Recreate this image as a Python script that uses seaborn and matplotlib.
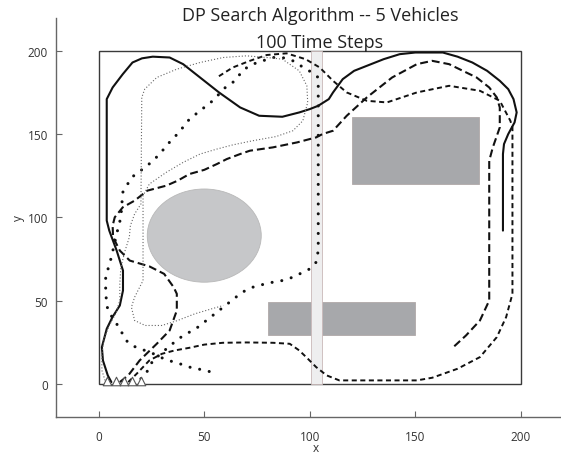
import seaborn as sns
import matplotlib.pyplot as plt
import matplotlib.patches as mpatches

# vehicle start markers
tri_x = [4, 8, 12, 16, 20]
tri_y = [1.5, 1.5, 1.5, 1.5, 1.5]

# vehicle 1 - solid
solid_x = [6, 4.3, 2, 1.5, 3.8, 6.5, 10, 11.5, 11.5, 8.5, 5, 3.8, 3.8, 6.6, 11.4, 16, 20.5, 25.6,
           33.6, 40, 48, 57, 67, 76, 87, 95, 100, 104, 109, 111, 115.6, 121, 127, 135, 142.6, 150,
           163, 170, 177, 184, 190, 194, 196.5, 198, 197, 194, 192, 191.5, 191.5]
solid_y = [1, 5, 14, 22, 33, 40, 47, 56, 68, 80, 92, 98, 171, 178, 186, 193, 195.5, 196.5,
           196, 192, 184, 175, 166, 161, 160.4, 163, 165, 167, 171, 175, 183, 188, 191, 195, 198, 199,
           199, 196.5, 193, 188, 182, 177, 171, 163, 157, 150, 144, 138, 92]

# vehicle 2 - long dashes
dash1_x = [10, 14, 19.4, 27.5, 33.6, 37, 37, 35.5, 31, 24, 14.7, 10, 6.8, 6.6, 7.6, 11.4, 17, 23,
           32, 37.4, 43, 50, 56, 60.7, 67, 71.6, 82.5, 94, 103, 106, 111, 117.5, 127, 139, 150.7,
           158, 166, 179, 185, 188.6, 190, 190, 186.7, 185, 185, 180.6, 174, 168]
dash1_y = [1, 5, 14, 24, 32, 44, 54, 58, 66, 70.5, 74, 80, 88, 95, 100, 106, 110, 116,
           119, 122, 126, 128.5, 132, 135, 138, 140, 142, 145, 148, 150, 152, 161, 172, 184, 192,
           194, 192, 184, 178, 172, 166, 154, 142, 134, 50, 38, 29, 22]

# vehicle 3 - short dashes
dash2_x = [14, 18, 24, 30, 36, 43, 50, 58.8, 70, 82.5, 90.5, 95, 98.6, 103, 108, 114, 130, 150.7,
           158, 170, 180.6, 188.6, 193, 196, 196, 195, 190, 180.6, 166, 150.7, 136.5, 127, 117.5,
           111, 104.7, 98, 89, 79.6, 71.6, 63.5, 56]
dash2_y = [1, 6, 14, 18, 20, 21.6, 23.5, 24.6, 24.8, 24.6, 24, 20, 15.6, 10, 5, 2, 2, 2,
           3.6, 9, 16, 28, 40, 54, 154, 158, 170, 176, 179, 175, 169, 170, 175,
           182, 190, 195, 198.5, 197.5, 194, 190, 184]

# vehicle 4 - heavy dots
dots_x = [20, 21.8, 24, 26, 29.9, 32.7, 36, 39, 43, 47, 51, 54, 58, 65, 68, 73, 77.7, 82.5, 87,
          92, 100, 103, 104, 104, 101, 97, 92, 87, 82.5, 77.7, 73, 69, 63.5, 60, 54, 50, 43, 38,
          32, 29, 23, 15.6, 11.4, 10.5, 8.5, 6, 3.3, 3.3, 4.3, 9, 11, 13, 16, 21, 25, 29, 33.6,
          38.4, 44, 49, 53.5]
dots_y = [3, 5, 9.6, 15, 18, 22, 25, 28, 31, 34, 38, 41, 45, 52, 55, 58, 59.6, 61, 62,
          64, 69, 73, 80, 184, 187, 190, 194, 196, 196, 194, 192, 189, 181, 178, 170, 166, 159, 151,
          143, 138, 131, 124, 115, 100, 90, 76, 64, 54, 44, 35, 30.6, 26, 22.8, 20.4, 18.6, 16, 13.8,
          12, 9.6, 8.4, 7]

# vehicle 5 - fine dots
fine_x = [3, 1.5, 1.5, 2.5, 5, 8, 10, 10, 10.5, 12.5, 14.5, 15, 17, 20, 20.4, 21.8, 27.5, 37, 48,
          59, 70, 79.6, 87, 95, 98.6, 99, 96.7, 92, 84, 73, 63.5, 56, 48, 40, 32, 24, 21, 21, 19.4,
          17, 15.5, 17, 22, 30, 37.4, 45.5, 53.5, 59]
fine_y = [2, 8, 18, 27, 35, 42, 50, 60, 70, 80, 88, 95, 102, 108, 172, 177, 184, 189, 193,
          196, 197, 196, 195, 188, 179, 169, 158, 152, 148.5, 146, 143.5, 141, 138, 133, 127, 120, 113, 62, 58,
          52, 46, 38, 35, 35, 38, 42, 45, 47]

title_1 = "DP Search Algorithm -- 5 Vehicles"
title_2 = "100 Time Steps"

sns.set_style("ticks")
plt.rcParams['font.family'] = ['Open Sans', 'DejaVu Sans']

fig = plt.figure(figsize=(5.61, 4.56), dpi=100)
ax = fig.add_axes([0.1007, 0.0833, 0.8993, 0.876])

# obstacles and search area
ax.add_patch(mpatches.Rectangle((0, 0), 200, 200, fill=False, ec='#3a3a3a', lw=1, zorder=1))
ax.add_patch(mpatches.Ellipse((50, 89), 54, 56, fc='#c6c7c9', ec='#b8b8b8', lw=0.6, zorder=1))
ax.add_patch(mpatches.Rectangle((120, 120), 60, 40, fc='#a7a8ab', ec='#b0a8a8', lw=0.6, zorder=1))
ax.add_patch(mpatches.Rectangle((80, 29), 70, 20, fc='#a7a8ab', ec='#b0a8a8', lw=0.6, zorder=1))
ax.add_patch(mpatches.Rectangle((100.8, 0), 5, 200, fc='#eeeeef', ec='#c9b9b9', lw=0.6, zorder=1.5))

# vehicle paths
sns.lineplot(x=solid_x, y=solid_y, sort=False, estimator=None, ax=ax, color='#111111',
             lw=1.5, zorder=3)
sns.lineplot(x=dash1_x, y=dash1_y, sort=False, estimator=None, ax=ax, color='#111111',
             lw=1.5, linestyle=(0, (3.8, 1.9)), zorder=3)
sns.lineplot(x=dash2_x, y=dash2_y, sort=False, estimator=None, ax=ax, color='#111111',
             lw=1.4, linestyle=(0, (2.6, 1.8)), zorder=3)
sns.lineplot(x=dots_x, y=dots_y, sort=False, estimator=None, ax=ax, color='#111111',
             lw=2.2, linestyle=(0, (0.01, 3.2)), dash_capstyle='round', zorder=3)
sns.lineplot(x=fine_x, y=fine_y, sort=False, estimator=None, ax=ax, color='#666666',
             lw=0.8, linestyle=(0, (1, 1.8)), zorder=3)

sns.scatterplot(x=tri_x, y=tri_y, marker='^', s=38, color='white', edgecolor='#555555',
                linewidth=0.8, ax=ax, zorder=5)

ax.set_xlim(-20, 219)
ax.set_ylim(-20, 220)
ax.set_xticks([0, 50, 100, 150, 200])
ax.set_yticks([0, 50, 100, 150, 200])
sns.despine(ax=ax)
for s in ['left', 'bottom']:
    ax.spines[s].set_color('#666666')
    ax.spines[s].set_linewidth(1)
ax.tick_params(axis='both', direction='in', length=4, color='#666666', labelsize=8.5,
               labelcolor='#333333')
ax.tick_params(axis='x', pad=9)
ax.tick_params(axis='y', pad=6)
ax.set_xlabel("x", fontsize=8.5, color='#333333')
ax.set_ylabel("y", fontsize=8.5, color='#333333')
ax.xaxis.set_label_coords(0.514, -0.061)
ax.yaxis.set_label_coords(-0.062, 0.5)

fig.text(0.570, 0.964, title_1, ha='center', va='center', fontsize=13, color='#222222')
fig.text(0.570, 0.905, title_2, ha='center', va='center', fontsize=13, color='#222222')

fig.savefig("out.png", dpi=100)
